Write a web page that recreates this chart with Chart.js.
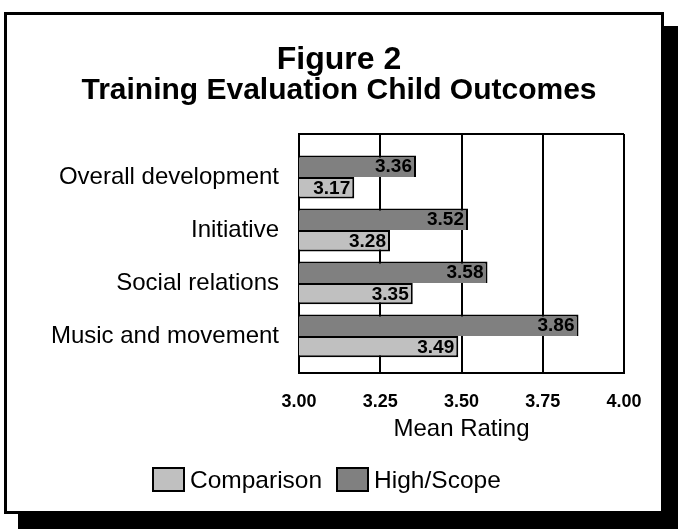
<!DOCTYPE html>
<html><head><meta charset="utf-8">
<script src="https://cdn.jsdelivr.net/npm/chart.js@4.4.0/dist/chart.umd.min.js"></script>
<style>
html,body{margin:0;padding:0;background:#fff;width:678px;height:529px;overflow:hidden;}
#shadow{position:absolute;left:18px;top:26px;width:660px;height:503px;background:#000;}
#frame{position:absolute;left:4px;top:12px;width:654px;height:496px;border:3px solid #000;background:#fff;}
#c{position:absolute;left:0;top:0;}
#legend{position:absolute;left:152px;top:467px;display:flex;align-items:center;font:24.5px "Liberation Sans",Arial,sans-serif;color:#000;line-height:25px;}
.item{display:flex;align-items:center;margin-right:14px;}
.box{width:29px;height:21px;border:2px solid #000;margin-right:5px;}
</style></head><body>
<div id="shadow"></div><div id="frame"></div>
<canvas id="c" width="678" height="529"></canvas>
<div id="legend"></div>
<script>
const categories = ['Overall development','Initiative','Social relations','Music and movement'];
const highScope = [3.36, 3.52, 3.58, 3.86];
const comparison = [3.17, 3.28, 3.35, 3.49];
const xTickStep = 0.25;
const xMin = 3.00, xMax = 4.00;
const titleText = 'Figure 2';
const subtitleText = 'Training Evaluation Child Outcomes';
const xTitle = 'Mean Rating';

const FONT = '"Liberation Sans", Arial, sans-serif';
Chart.defaults.font.family = FONT;
Chart.defaults.color = '#000';

const frameTop = {
  id:'frameTop',
  beforeDatasetsDraw(chart){
    const {ctx, chartArea:a} = chart;
    ctx.save(); ctx.strokeStyle='#000'; ctx.lineWidth=2;
    ctx.beginPath(); ctx.moveTo(a.left,a.top); ctx.lineTo(a.right,a.top); ctx.stroke();
    ctx.restore();
  }
};
const valueLabels = {
  id:'valueLabels',
  afterDatasetsDraw(chart){
    const ctx = chart.ctx;
    ctx.save();
    ctx.font = 'bold 19px ' + FONT;
    ctx.fillStyle = '#000'; ctx.textAlign='right'; ctx.textBaseline='middle';
    chart.data.datasets.forEach((ds,di)=>{
      chart.getDatasetMeta(di).data.forEach((bar,i)=>{
        ctx.fillText(ds.data[i].x.toFixed(2), bar.x-4, bar.y+1);
      });
    });
    ctx.restore();
  }
};

const chart = new Chart(document.getElementById('c'), {
  type:'bar',
  data:{
    datasets:[
      {label:'High/Scope', data:highScope.map((v,i)=>({x:v,y:i})), backgroundColor:'#808080', borderColor:'#000', borderWidth:2, borderSkipped:'bottom', barPercentage:1, categoryPercentage:0.81},
      {label:'Comparison', data:comparison.map((v,i)=>({x:v,y:i})), backgroundColor:'#c0c0c0', borderColor:'#000', borderWidth:2, borderSkipped:false, barPercentage:1, categoryPercentage:0.81}
    ]
  },
  options:{
    indexAxis:'y',
    responsive:false, animation:false,
    layout:{padding:{left:0,right:0,top:0,bottom:85}},
    plugins:{
      legend:{display:false},
      tooltip:{enabled:false},
      title:{display:true, text:titleText, color:'#000', font:{size:32, weight:'bold', lineHeight:1.0}, padding:{top:44,bottom:0}},
      subtitle:{display:true, text:subtitleText, color:'#000', font:{size:30, weight:'bold', lineHeight:1.0}, padding:{top:0,bottom:28}}
    },
    scales:{
      x:{type:'linear', position:'bottom', min:xMin, max:xMax, beginAtZero:false,
        ticks:{stepSize:xTickStep, callback:v=>Number(v).toFixed(2), font:{size:18, weight:'bold'}, color:'#000', padding:18},
        grid:{color:'#000', lineWidth:2, drawTicks:false},
        border:{color:'#000', width:2},
        title:{display:true, text:xTitle, color:'#000', font:{size:24}, padding:{top:0,bottom:0}},
        afterFit:s=>{ s.height = 71; }
      },
      y:{type:'linear', position:'left', reverse:true, offset:false, min:-0.81, max:3.70,
        afterBuildTicks:s=>{ s.ticks = categories.map((c,i)=>({value:i})); },
        ticks:{callback:v=>categories[v], font:{size:24}, color:'#000', padding:20, autoSkip:false},
        grid:{display:false, drawTicks:false},
        border:{color:'#000', width:2},
        afterFit:s=>{ s.width = 299; }
      },
      yR:{type:'linear', position:'right', display:true, offset:false,
        ticks:{display:false}, grid:{display:false, drawTicks:false}, border:{display:false},
        afterFit:s=>{ s.width = 54; }
      }
    }
  },
  plugins:[frameTop, valueLabels]
});

const leg = document.getElementById('legend');
chart.data.datasets.slice().reverse().forEach(ds=>{
  const it = document.createElement('div'); it.className='item';
  const b = document.createElement('div'); b.className='box'; b.style.background = ds.backgroundColor;
  const t = document.createElement('span'); t.textContent = ds.label;
  it.appendChild(b); it.appendChild(t); leg.appendChild(it);
});
</script>
</body></html>
